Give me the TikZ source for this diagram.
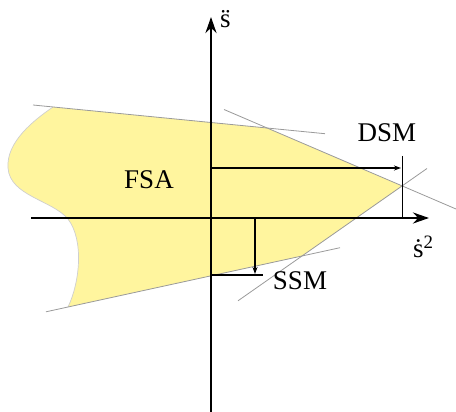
\documentclass[tikz,border=0pt]{standalone}
\usepackage{fontspec}
\setmainfont{Liberation Serif}
\usetikzlibrary{arrows.meta}
\definecolor{fsayellow}{HTML}{FFF59E}
\definecolor{edgegrey}{HTML}{9A9A9A}
\definecolor{curvegrey}{HTML}{CFCFCF}

\begin{document}
\begin{tikzpicture}[x=1pt,y=-1pt,
  axis/.style={line width=2.6pt,-{Stealth[length=16pt,width=11pt]}},
  bound/.style={edgegrey,line width=0.8pt},
  guide/.style={line width=1.1pt},
  garr/.style={guide,-{Stealth[length=7pt,width=5pt]}},
  lbl/.style={font=\fontsize{27}{30}\selectfont,inner sep=0pt,anchor=base}]
  \useasboundingbox (0,0) rectangle (456,412);
  % corners of the feasible set
  \coordinate (tl) at (53,107);
  \coordinate (k1) at (267,128);
  \coordinate (tip) at (402,186);
  \coordinate (k2) at (302,256);
  \coordinate (bl) at (68,307);
  \coordinate (O) at (211,218);
  % region
  \fill[fsayellow] (tl) -- (k1) -- (tip) -- (k2) -- (bl)
    .. controls (80,282) and (84,240) .. (68,219)
    .. controls (52,200) and (10,196) .. (8,168)
    .. controls (6,142) and (34,120) .. (tl);
  \draw[curvegrey,line width=0.7pt] (bl)
    .. controls (80,282) and (84,240) .. (68,219)
    .. controls (52,200) and (10,196) .. (8,168)
    .. controls (6,142) and (34,120) .. (tl);
  % constraint lines
  \draw[bound] (33,105) -- (325,133.7);
  \draw[bound] (224,109.5) -- (456,209);
  \draw[bound] (238,300.8) -- (427,168.5);
  \draw[bound] (46,311.8) -- (340,247.7);
  % switching lines
  \coordinate (dsmA) at (211,168);
  \coordinate (dsmB) at (401,168);
  \coordinate (dsmT) at (402,156);
  \coordinate (dsmX) at (402,218);
  \coordinate (ssmA) at (255,218);
  \coordinate (ssmB) at (255,274);
  \coordinate (ssmL) at (211,275);
  \coordinate (ssmR) at (263,275);
  \draw[garr] (dsmA) -- (dsmB);
  \draw[guide,line width=0.9pt] (dsmT) -- (dsmX);
  \draw[garr] (ssmA) -- (ssmB);
  \draw[guide] (ssmL) -- (ssmR);
  % axes
  \coordinate (xl) at (31,218);
  \coordinate (xr) at (429,218);
  \coordinate (yb) at (211,412);
  \coordinate (yt) at (211,17);
  \draw[axis] (xl) -- (xr);
  \draw[axis] (yb) -- (yt);
  % labels
  \node[lbl] (fsa) at (149,189) {FSA};
  \node[lbl] (dsm) at (387,142) {DSM};
  \node[lbl] (ssm) at (300,289) {SSM};
  \node[lbl,anchor=base west] (sdd) at (220,28) {\"s};
  \node[lbl,anchor=base west] (sd2) at (413,258) {ṡ\textsuperscript{2}};
\end{tikzpicture}
\end{document}
